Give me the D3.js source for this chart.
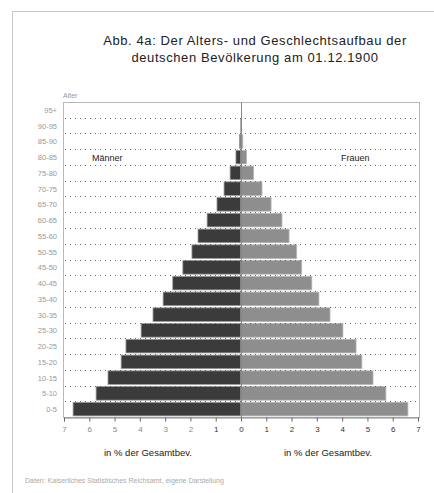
<!DOCTYPE html>
<html>
<head>
<meta charset="utf-8">
<script src="https://cdn.jsdelivr.net/npm/d3@7"></script>
<style>
    body { margin: 0; background: #fff; }
    svg text { font-family: "Liberation Sans", Arial, sans-serif; }
</style>
</head>
<body>
<div id="chart"></div>
<script>
// age groups from bottom to top
const ageGroups = ["0-5", "5-10", "10-15", "15-20", "20-25", "25-30", "30-35", "35-40", "40-45", "45-50",
    "50-55", "55-60", "60-65", "65-70", "70-75", "75-80", "80-85", "85-90", "90-95", "95+"];

// share of total population in %
const men   = [6.64, 5.73, 5.26, 4.74, 4.55, 3.95, 3.48, 3.08, 2.70, 2.30,
    1.94, 1.70, 1.34, 0.95, 0.67, 0.43, 0.20, 0.06, 0.01, 0];
const women = [6.60, 5.73, 5.22, 4.78, 4.55, 4.03, 3.52, 3.08, 2.80, 2.40,
    2.20, 1.90, 1.62, 1.19, 0.83, 0.50, 0.22, 0.07, 0.01, 0];

const xTicks = [-7, -6, -5, -4, -3, -2, -1, 0, 1, 2, 3, 4, 5, 6, 7];

const titleLines = ["Abb. 4a: Der Alters- und Geschlechtsaufbau der", "deutschen Bevölkerung am 01.12.1900"];
const sourceText = "Daten: Kaiserliches Statistisches Reichsamt, eigene Darstellung";

const width = 434, height = 493;
const plot = {left: 63, right: 419, top: 102, bottom: 417};
const center = 241;

let svg = d3.select("#chart").append("svg")
    .attr("width", width)
    .attr("height", height);

// outer frame
svg.append("rect")
    .attr("x", 12.5).attr("y", 11.5)
    .attr("width", width - 12).attr("height", height - 10)
    .attr("fill", "none")
    .attr("stroke", "#c8c8c8");

// title
svg.append("text")
    .attr("text-anchor", "middle")
    .attr("font-size", 13)
    .attr("letter-spacing", 0.6)
    .attr("fill", "#222")
    .selectAll("tspan")
    .data(titleLines)
    .join("tspan")
    .attr("x", 255)
    .attr("y", (d, i) => 45 + i * 17)
    .text(d => d);

// scales
let y = d3.scaleBand()
    .domain(ageGroups)
    .range([plot.bottom, plot.top])
    .paddingInner(0.14)
    .paddingOuter(0.07);

let xMen = d3.scaleLinear().domain([0, 7]).range([center, 64]);
let xWomen = d3.scaleLinear().domain([0, 7]).range([center, 418]);
let xAxisScale = d3.scaleLinear().domain([-7, 7]).range([64, 418]);

// plot box
svg.append("rect")
    .attr("x", plot.left + 0.5).attr("y", plot.top + 0.5)
    .attr("width", plot.right - plot.left).attr("height", plot.bottom - plot.top)
    .attr("fill", "none")
    .attr("stroke", "#b8b8b8");

// bars
svg.append("g")
    .selectAll("rect")
    .data(men)
    .join("rect")
    .attr("x", d => xMen(d))
    .attr("y", (d, i) => y(ageGroups[i]))
    .attr("width", d => center - xMen(d))
    .attr("height", y.bandwidth())
    .attr("fill", "#3b3b3b")
    .attr("stroke", "#9a9a9a")
    .attr("stroke-width", 0.8);

svg.append("g")
    .selectAll("rect")
    .data(women)
    .join("rect")
    .attr("x", center)
    .attr("y", (d, i) => y(ageGroups[i]))
    .attr("width", d => xWomen(d) - center)
    .attr("height", y.bandwidth())
    .attr("fill", "#8e8e8e")
    .attr("stroke", "#b5b5b5")
    .attr("stroke-width", 0.8);

// dotted gridlines between rows
let step = y.step();
svg.append("g")
    .selectAll("line")
    .data(ageGroups.slice(1))
    .join("line")
    .attr("x1", plot.left + 2).attr("x2", plot.right - 2)
    .attr("y1", d => Math.round(y(d) + y.bandwidth() + step * y.paddingInner() / 2) + 0.5)
    .attr("y2", d => Math.round(y(d) + y.bandwidth() + step * y.paddingInner() / 2) + 0.5)
    .attr("stroke", "#666")
    .attr("stroke-dasharray", "1,4");

// centre line
svg.append("line")
    .attr("x1", center + 0.5).attr("x2", center + 0.5)
    .attr("y1", plot.top).attr("y2", plot.bottom)
    .attr("stroke", "#888");

// age labels
svg.append("g")
    .selectAll("text")
    .data(ageGroups)
    .join("text")
    .attr("x", 57)
    .attr("y", d => y(d) + y.bandwidth() / 2 + 3)
    .attr("text-anchor", "end")
    .attr("font-size", 7.5)
    .attr("fill", "#999")
    .text(d => d);

svg.append("text")
    .attr("x", 63).attr("y", 98)
    .attr("font-size", 7)
    .attr("fill", "#999")
    .text("Alter");

// sex labels
svg.append("text")
    .attr("x", 92).attr("y", 161)
    .attr("font-size", 9)
    .attr("fill", "#222")
    .text("Männer");

svg.append("text")
    .attr("x", 341).attr("y", 161)
    .attr("font-size", 9)
    .attr("fill", "#222")
    .text("Frauen");

// x axis
let xAxis = d3.axisBottom(xAxisScale)
    .tickValues(xTicks)
    .tickFormat(d => Math.abs(d))
    .tickSize(4)
    .tickPadding(5);

let axisG = svg.append("g")
    .attr("transform", `translate(0, ${plot.bottom + 0.5})`)
    .call(xAxis);
axisG.select(".domain").attr("stroke", "#888");
axisG.selectAll(".tick line").attr("stroke", "#666");
axisG.selectAll(".tick text")
    .attr("font-size", 8)
    .attr("font-family", "Liberation Sans, Arial, sans-serif")
    .attr("fill", d => d < -1 ? "#888" : "#333");

// axis titles
svg.append("text")
    .attr("x", 148).attr("y", 456)
    .attr("text-anchor", "middle")
    .attr("font-size", 9.5)
    .attr("fill", "#222")
    .text("in % der Gesamtbev.");

svg.append("text")
    .attr("x", 328).attr("y", 456)
    .attr("text-anchor", "middle")
    .attr("font-size", 9.5)
    .attr("fill", "#222")
    .text("in % der Gesamtbev.");

// source
svg.append("text")
    .attr("x", 25).attr("y", 483)
    .attr("font-size", 7)
    .attr("fill", "#aaa")
    .text(sourceText);
</script>
</body>
</html>
